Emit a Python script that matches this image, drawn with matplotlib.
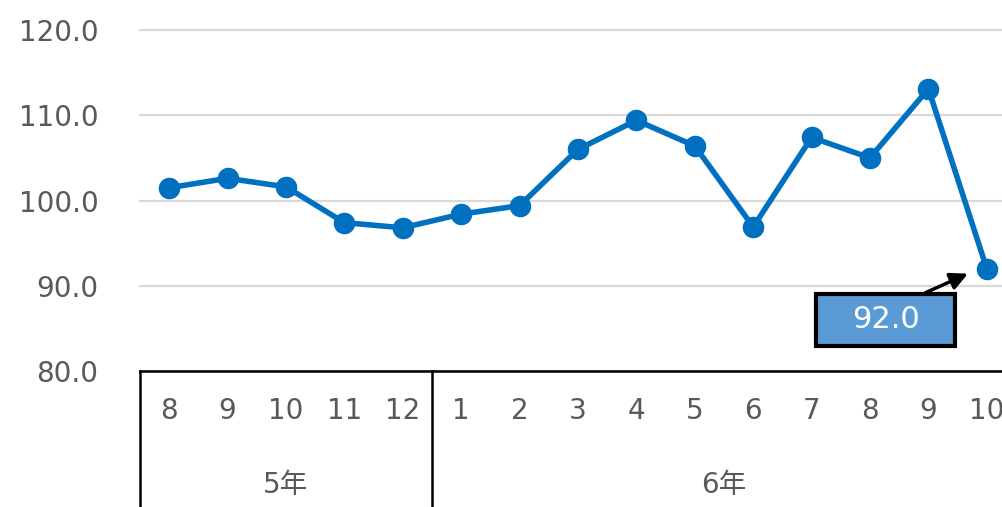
import matplotlib
matplotlib.use("Agg")
import matplotlib.pyplot as plt
from matplotlib.patches import Rectangle
import matplotlib.transforms as mtransforms

plt.rcParams['font.family'] = ['DejaVu Sans', 'Noto Sans CJK JP']

months = ["8", "9", "10", "11", "12", "1", "2", "3", "4", "5", "6", "7", "8", "9", "10"]
years = ["5年", "6年"]
year_counts = [5, 10]
values = [101.5, 102.6, 101.6, 97.4, 96.8, 98.4, 99.4, 106.0, 109.4, 106.4, 96.9, 107.4, 105.0, 113.1, 92.0]
yticks = [80.0, 90.0, 100.0, 110.0, 120.0]
callout_text = "92.0"

W, H = 1002, 507
fig = plt.figure(figsize=(W / 100, H / 100), dpi=100)
left, right, top, bottom = 140, 1016, 30, 371
ax = fig.add_axes([left / W, 1 - bottom / H, (right - left) / W, (bottom - top) / H])

x = list(range(len(values)))
ax.plot(x, values, color="#0070C0", lw=4, marker="o", ms=14.5, zorder=3, clip_on=False)

ax.set_xlim(-0.5, len(values) - 0.5)
ax.set_ylim(80, 120)
ax.set_yticks(yticks)
ax.set_yticklabels([f"{v:.1f}" for v in yticks], fontsize=20, color="#595959")
ax.tick_params(axis="y", length=0, pad=30)
ax.set_xticks([])
for s in ["top", "right", "left"]:
    ax.spines[s].set_visible(False)
ax.spines["bottom"].set_color("black")
ax.spines["bottom"].set_linewidth(1.8)
ax.grid(axis="y", color="#D9D9D9", lw=1.6)
for gl in ax.get_ygridlines():
    gl.set_clip_on(False)
ax.set_axisbelow(True)

trans = mtransforms.blended_transform_factory(ax.transData, ax.transAxes)
for i, m in enumerate(months):
    ax.text(i, -0.117, m, transform=trans, ha="center", va="center", fontsize=20, color="#595959")

start = 0
bounds = [-0.5]
for yl, c in zip(years, year_counts):
    end = start + c
    ax.text((start + end - 1) / 2, -0.334, yl, transform=trans, ha="center", va="center",
            fontsize=20, color="#595959")
    bounds.append(end - 0.5)
    start = end
for b in bounds[:-1]:
    ax.plot([b, b], [0, -0.5], transform=trans, color="black", lw=1.8, clip_on=False)

# callout box
rx0, rx1 = 11.08, 13.46
ry0, ry1 = 82.94, 89.06
ax.add_patch(Rectangle((rx0, ry0), rx1 - rx0, ry1 - ry0, facecolor="#5B9BD5",
                       edgecolor="black", lw=3, zorder=4, clip_on=False))
ax.text((rx0 + rx1) / 2, (ry0 + ry1) / 2, callout_text, ha="center", va="center",
        fontsize=22, color="white", zorder=5)
ax.annotate("", xy=(13.72, values[-1] - 0.45), xytext=(12.91, ry1),
            arrowprops=dict(arrowstyle="-|>", color="black", lw=2.5, mutation_scale=26),
            zorder=5, annotation_clip=False)

fig.savefig("out.png", dpi=100)
